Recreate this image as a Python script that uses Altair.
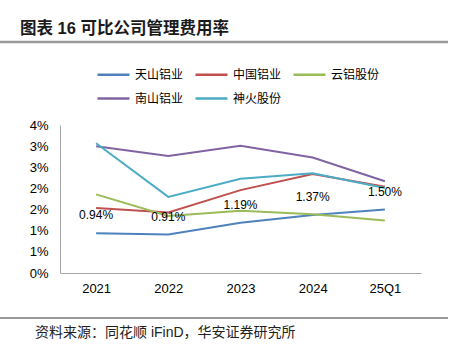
import altair as alt
import pandas as pd

periods = ["2021", "2022", "2023", "2024", "25Q1"]
series_names = ["天山铝业", "中国铝业", "云铝股份", "南山铝业", "神火股份"]
tianshan = [0.94, 0.91, 1.19, 1.37, 1.50]
zhonglv = [1.54, 1.43, 1.96, 2.34, 2.04]
yunlv = [1.86, 1.35, 1.47, 1.39, 1.24]
nanshan = [3.00, 2.77, 3.01, 2.73, 2.17]
shenhuo = [3.07, 1.80, 2.23, 2.36, 2.01]
colors = ["#4F81BD", "#C0504D", "#9BBB59", "#8064A2", "#4BACC6"]
y_ticks = [0, 0.5, 1.0, 1.5, 2.0, 2.5, 3.0, 3.5]

title_text = "图表 16  可比公司管理费用率"
source_text = "资料来源：同花顺 iFinD，华安证券研究所"

rows = []
for name, vals in zip(series_names, [tianshan, zhonglv, yunlv, nanshan, shenhuo]):
    for p, v in zip(periods, vals):
        rows.append({"period": p, "series": name, "value": v})
df = pd.DataFrame(rows)
lab_df = pd.DataFrame({"period": periods, "value": tianshan,
                       "label": [f"{v:.2f}%" for v in tianshan]})

cjk = "Noto Sans CJK SC"
latin = "Liberation Sans"

x = alt.X("period:N", sort=periods,
          scale=alt.Scale(type="point", padding=0.5),
          axis=alt.Axis(title=None, labelAngle=0, ticks=False, domainColor="#A6A6A6",
                        labelFont=latin, labelFontSize=13, labelColor="#000000",
                        labelPadding=9, grid=False))
y_axis = alt.Axis(title=None, values=y_ticks, ticks=False, grid=False,
                  labelOverlap=False, labelBound=False, labelFlush=False,
                  labelExpr="round(datum.value) + '%'", domainColor="#A6A6A6",
                  labelFont=latin, labelFontSize=13, labelColor="#000000",
                  labelPadding=12)
y = alt.Y("value:Q", scale=alt.Scale(domain=[0, 3.5], nice=False, zero=True), axis=y_axis)

lines = alt.Chart(df).mark_line(strokeWidth=2).encode(
    x=x, y=y,
    color=alt.Color("series:N", sort=series_names,
                    scale=alt.Scale(domain=series_names, range=colors),
                    legend=alt.Legend(title=None, orient="none", legendX=36, legendY=-68,
                                      direction="horizontal", columns=3, padding=0,
                                      symbolType="stroke", symbolSize=1024,
                                      symbolStrokeWidth=2.5, labelFont=cjk,
                                      labelFontSize=12, labelColor="#000000",
                                      labelOffset=4, columnPadding=6, rowPadding=0)),
)

labels = alt.Chart(lab_df).mark_text(dy=-18, font=latin, fontSize=12, color="#000000").encode(
    x=x, y=y, text="label:N")

title = alt.Chart(pd.DataFrame({"t": [title_text]})).mark_text(
    align="left", baseline="middle", font=f"{latin}, {cjk}", fontSize=16.5,
    fontWeight="bold", color="#1a1a1a").encode(
    x=alt.value(-40), y=alt.value(-96), text="t:N")

title_rule = alt.Chart(pd.DataFrame({"t": [0]})).mark_rule(
    color="#9a9a9a", strokeWidth=2.5).encode(
    x=alt.value(-60), x2=alt.value(388), y=alt.value(-83))

foot_rule = alt.Chart(pd.DataFrame({"t": [0]})).mark_rule(
    color="#333333", strokeWidth=1).encode(
    x=alt.value(-60), x2=alt.value(388), y=alt.value(193))

source = alt.Chart(pd.DataFrame({"t": [source_text]})).mark_text(
    align="left", baseline="middle", font=f"{latin}, {cjk}", fontSize=14,
    color="#222222").encode(
    x=alt.value(-25), y=alt.value(208), text="t:N")

chart = alt.layer(lines, labels, title, title_rule, foot_rule, source).properties(
    width=361, height=148, autosize="none",
    padding={"left": 60, "top": 125, "right": 34, "bottom": 77},
    background="#ffffff",
).configure_view(stroke=None)

chart.save("out.html", embed_options={"renderer": "svg", "actions": False})
